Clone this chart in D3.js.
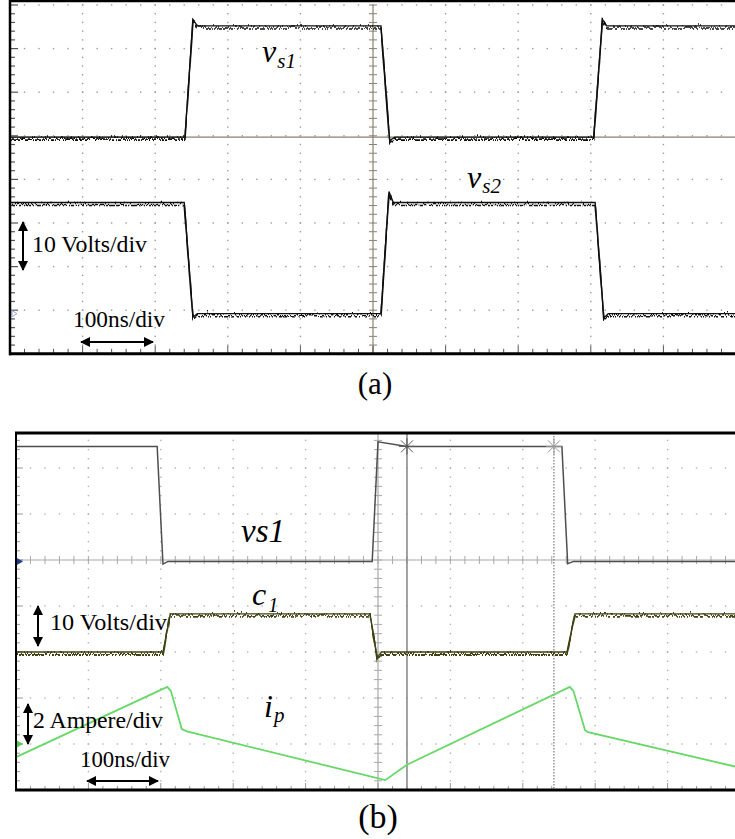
<!DOCTYPE html>
<html>
<head>
<meta charset="utf-8">
<script src="https://cdn.jsdelivr.net/npm/d3@7"></script>
<style>
  body { margin: 0; background: #fff; }
  svg { display: block; }
  text { font-family: "Liberation Serif", "Tinos", "DejaVu Serif", serif; }
</style>
</head>
<body>
<div id="chart"></div>
<script>
// ---- data read off the scope shots (time in ns) ----
// panel (a): switch node voltages, volts
const timeA_vs1 = [0, 241, 252, 258, 511, 523, 530, 804, 816, 822, 1000];
const voltA_vs1 = [0, 0, 27, 25.5, 25.5, -0.8, 0, 0, 27, 25.5, 25.5];
const timeA_vs2 = [0, 240, 252, 258, 511, 522, 528, 806, 818, 824, 1000];
const voltA_vs2 = [25.5, 25.5, -0.8, 0, 0, 28, 25.5, 25.5, -1, 0, 0];

// panel (b): vs1 and c1 in volts, ip in amperes
const timeB_vs1 = [0, 195, 203, 210, 492, 500, 540, 754, 762, 770, 1000];
const voltB_vs1 = [25, 25, -0.6, 0, 0, 26, 25, 25, -0.5, 0, 0];
const timeB_c1 = [0, 203, 213, 489, 499, 505, 761, 772, 1000];
const voltB_c1 = [0, 0, 8.3, 8.3, -1.2, 0, 0, 8.3, 8.3];
const timeB_ip = [0, 209, 214, 229, 236, 510, 540, 765, 770, 786, 790, 1000];
const ampB_ip = [-0.57, 2.48, 2.3, 0.65, 0.55, -1.57, -0.9, 2.48, 2.3, 0.6, 0.52, -1.03];

// cursor positions in panel (b), ns
const cursorTimes = [540, 743];

// scope settings: units per division, ground position in divisions
const voltsPerDiv = 10, ampsPerDiv = 2;
const gndA_vs1 = 0.97, gndA_vs2 = -3.08;      // panel (a), divs from centre
const gndB_vs1 = 4.97, gndB_c1 = 3.0, gndB_ip = 1.0; // panel (b), divs from bottom

const W = 735, H = 839;
const serif = '"Liberation Serif", "Tinos", "DejaVu Serif", serif';
const svg = d3.select('#chart').append('svg')
  .attr('width', W).attr('height', H)
  .attr('viewBox', [0, 0, W, H].join(' '))
  .attr('font-family', serif);

const defs = svg.append('defs');
// scope noise look: vertical jitter only (red channel pinned to 0.5)
const f = defs.append('filter').attr('id', 'noise')
  .attr('x', '-5%').attr('y', '-30%').attr('width', '110%').attr('height', '160%');
f.append('feTurbulence').attr('type', 'turbulence').attr('baseFrequency', '0.7 0.02')
  .attr('numOctaves', 2).attr('seed', 7).attr('result', 't');
f.append('feColorMatrix').attr('in', 't').attr('type', 'matrix')
  .attr('values', '0 0 0 0 0.5  0 1.6 0 0 -0.25  0 0 0 0 0  0 0 0 0 1').attr('result', 'm');
f.append('feDisplacementMap').attr('in', 'SourceGraphic').attr('in2', 'm')
  .attr('scale', 6).attr('xChannelSelector', 'R').attr('yChannelSelector', 'G');

defs.append('marker').attr('id', 'arr')
  .attr('viewBox', '0 0 10 10').attr('refX', 9).attr('refY', 5)
  .attr('markerWidth', 5).attr('markerHeight', 5).attr('orient', 'auto-start-reverse')
  .attr('markerUnits', 'strokeWidth')
  .append('path').attr('d', 'M0,0 L10,5 L0,10 z').attr('fill', '#000');

const zip = (t, v) => t.map((d, i) => [d, v[i]]);

// noisy trace = thin clean line + jittered copy
function noisyTrace(g, data, line, col, w) {
  g.append('path').datum(data).attr('d', line)
    .attr('fill', 'none').attr('stroke', col).attr('stroke-width', 1.3);
  g.append('path').datum(data).attr('d', line)
    .attr('fill', 'none').attr('stroke', col).attr('stroke-width', w).attr('filter', 'url(#noise)');
}

// ================= panel (a) =================
const xA = d3.scaleLinear().domain([0, 1000]).range([10, 736]);
const yA = d3.scaleLinear().domain([-4, 4]).range([353.8, 5]);
const gA = svg.append('g');

function gridDots(g, x, y, tMajors, dMajors, dMin, dMax, col) {
  // dots along vertical grid lines
  tMajors.forEach(t => {
    g.append('g').selectAll('rect')
      .data(d3.range(dMin, dMax + 0.001, 0.2))
      .join('rect')
      .attr('x', x(t) - 0.7).attr('y', d => y(d) - 0.7)
      .attr('width', 1.4).attr('height', 1.4).attr('fill', col);
  });
  // dots along horizontal grid rows
  dMajors.forEach(dv => {
    g.append('g').selectAll('rect')
      .data(d3.range(20, 1000, 20))
      .join('rect')
      .attr('x', d => x(d) - 0.7).attr('y', y(dv) - 0.7)
      .attr('width', 1.4).attr('height', 1.4).attr('fill', col);
  });
}

gridDots(gA, xA, yA, [100, 200, 300, 400, 600, 700, 800, 900], [-3, -2, -1, 0, 1, 2, 3, 4], -4, 4, '#9c9c9c');

// centre vertical axis with minor ticks
const axA = '#8b8170';
gA.append('line').attr('x1', xA(500)).attr('x2', xA(500)).attr('y1', yA(4)).attr('y2', yA(-4))
  .attr('stroke', axA).attr('stroke-width', 1.2);
gA.append('g').selectAll('line').data(d3.range(-4, 4.001, 0.2)).join('line')
  .attr('x1', xA(500) - 4).attr('x2', xA(500) + 4)
  .attr('y1', d => yA(d)).attr('y2', d => yA(d))
  .attr('stroke', axA).attr('stroke-width', 1);
// left border ticks
gA.append('g').selectAll('line').data(d3.range(-4, 4.001, 0.2)).join('line')
  .attr('x1', xA(0)).attr('x2', d => xA(0) + (Math.abs(d - Math.round(d)) < 0.01 ? 8 : 5))
  .attr('y1', d => yA(d)).attr('y2', d => yA(d))
  .attr('stroke', '#555').attr('stroke-width', 1.2);
// bottom border ticks
gA.append('g').selectAll('line').data(d3.range(0, 1001, 20)).join('line')
  .attr('x1', d => xA(d)).attr('x2', d => xA(d))
  .attr('y1', yA(-4)).attr('y2', d => yA(-4) - (d % 100 === 0 ? 8 : 5))
  .attr('stroke', '#555').attr('stroke-width', 1);
// vs1 ground reference line
gA.append('line').attr('x1', xA(0)).attr('x2', xA(1000))
  .attr('y1', yA(gndA_vs1)).attr('y2', yA(gndA_vs1))
  .attr('stroke', axA).attr('stroke-width', 1.4);
// vs2 ground marker
gA.append('path')
  .attr('d', `M${xA(0) + 2},${yA(gndA_vs2) - 3} L${xA(0) + 7},${yA(gndA_vs2)} L${xA(0) + 2},${yA(gndA_vs2) + 3} z`)
  .attr('fill', 'none').attr('stroke', '#9aa6e0').attr('stroke-width', 1);

const lineA1 = d3.line().x(d => xA(d[0])).y(d => yA(d[1] / voltsPerDiv + gndA_vs1));
const lineA2 = d3.line().x(d => xA(d[0])).y(d => yA(d[1] / voltsPerDiv + gndA_vs2));
noisyTrace(gA, zip(timeA_vs1, voltA_vs1), lineA1, '#111', 1.6);
noisyTrace(gA, zip(timeA_vs2, voltA_vs2), lineA2, '#111', 1.6);

// frame
gA.append('line').attr('x1', xA(0)).attr('x2', W).attr('y1', 1).attr('y2', 1).attr('stroke', '#000').attr('stroke-width', 2.5);
gA.append('line').attr('x1', xA(0)).attr('x2', xA(0)).attr('y1', 0).attr('y2', yA(-4) + 1.5).attr('stroke', '#000').attr('stroke-width', 2.5);
gA.append('line').attr('x1', xA(0) - 1).attr('x2', W).attr('y1', yA(-4)).attr('y2', yA(-4)).attr('stroke', '#000').attr('stroke-width', 3);

// labels
function sublabel(g, x, y, main, sub, size, subSize, subDx, subDy) {
  const t = g.append('text').attr('x', x).attr('y', y).attr('font-family', serif)
    .attr('font-style', 'italic').attr('font-size', size).attr('fill', '#000');
  t.append('tspan').text(main);
  if (sub) t.append('tspan').attr('font-size', subSize).attr('dx', subDx).attr('dy', subDy).text(sub);
}
sublabel(gA, 262, 62, 'v', 's1', 32, 21, 1, 6);
sublabel(gA, 467, 188, 'v', 's2', 32, 21, 1, 5);

function arrow(g, x1, y1, x2, y2) {
  g.append('line').attr('x1', x1).attr('y1', y1).attr('x2', x2).attr('y2', y2)
    .attr('stroke', '#000').attr('stroke-width', 2)
    .attr('marker-start', 'url(#arr)').attr('marker-end', 'url(#arr)');
}
function note(g, x, y, len, s) {
  g.append('text').attr('x', x).attr('y', y).attr('font-size', 23)
    .attr('textLength', len).attr('lengthAdjust', 'spacingAndGlyphs').text(s);
}
arrow(gA, 23, 222, 23, 270);
note(gA, 32, 252, 115, '10 Volts/div');
note(gA, 73, 327, 92, '100ns/div');
arrow(gA, 81, 342, 153, 342);

svg.append('text').attr('x', 375).attr('y', 394).attr('text-anchor', 'middle')
  .attr('font-size', 31).text('(a)');

// ================= panel (b) =================
const xB = d3.scaleLinear().domain([0, 1000]).range([16, 740]);
const yB = d3.scaleLinear().domain([0, 8]).range([790, 422]);
const topB = 433;
const gB = svg.append('g');

gridDots(gB, xB, yB, [100, 200, 300, 400, 600, 700, 800, 900], [1, 2, 3, 4, 6, 7], 0, 7.6, '#b4b4b4');

const axB = '#a8a8a8';
// centre vertical axis
gB.append('line').attr('x1', xB(500)).attr('x2', xB(500)).attr('y1', topB).attr('y2', yB(0))
  .attr('stroke', axB).attr('stroke-width', 1.2);
gB.append('g').selectAll('line').data(d3.range(0, 7.7, 0.2)).join('line')
  .attr('x1', xB(500) - 4).attr('x2', xB(500) + 4)
  .attr('y1', d => yB(d)).attr('y2', d => yB(d))
  .attr('stroke', axB).attr('stroke-width', 1);
// horizontal axis row
gB.append('line').attr('x1', xB(0)).attr('x2', W).attr('y1', yB(5)).attr('y2', yB(5))
  .attr('stroke', axB).attr('stroke-width', 1.2);
gB.append('g').selectAll('line').data(d3.range(0, 1001, 20)).join('line')
  .attr('x1', d => xB(d)).attr('x2', d => xB(d))
  .attr('y1', yB(5) - 4).attr('y2', yB(5) + 4)
  .attr('stroke', axB).attr('stroke-width', 1);
// left border ticks
gB.append('g').selectAll('line').data(d3.range(0, 7.7, 0.2)).join('line')
  .attr('x1', xB(0)).attr('x2', d => xB(0) + (Math.abs(d - Math.round(d)) < 0.01 ? 7 : 4))
  .attr('y1', d => yB(d)).attr('y2', d => yB(d))
  .attr('stroke', '#9a9a9a').attr('stroke-width', 1);
// bottom border ticks
gB.append('g').selectAll('line').data(d3.range(0, 1001, 20)).join('line')
  .attr('x1', d => xB(d)).attr('x2', d => xB(d))
  .attr('y1', yB(0)).attr('y2', d => yB(0) - (d % 100 === 0 ? 7 : 4))
  .attr('stroke', '#9a9a9a').attr('stroke-width', 1);

// cursors
gB.append('line').attr('x1', xB(cursorTimes[0])).attr('x2', xB(cursorTimes[0]))
  .attr('y1', topB).attr('y2', yB(0)).attr('stroke', '#8a8a8a').attr('stroke-width', 1.6);
gB.append('line').attr('x1', xB(cursorTimes[1])).attr('x2', xB(cursorTimes[1]))
  .attr('y1', topB).attr('y2', yB(0)).attr('stroke', '#777').attr('stroke-width', 1.2)
  .attr('stroke-dasharray', '1.5,1.5');

// ground markers
gB.append('path')
  .attr('d', `M${xB(0)},${yB(gndB_vs1) - 4} L${xB(0) + 7},${yB(gndB_vs1)} L${xB(0)},${yB(gndB_vs1) + 4} z`)
  .attr('fill', '#1d3f8a');
gB.append('path')
  .attr('d', `M${xB(0)},${yB(gndB_ip) - 4} L${xB(0) + 7},${yB(gndB_ip)} L${xB(0)},${yB(gndB_ip) + 4} z`)
  .attr('fill', '#4cd04c');

const lineBv = d3.line().x(d => xB(d[0])).y(d => yB(d[1] / voltsPerDiv + gndB_vs1));
const lineBc = d3.line().x(d => xB(d[0])).y(d => yB(d[1] / voltsPerDiv + gndB_c1));
const lineBi = d3.line().x(d => xB(d[0])).y(d => yB(d[1] / ampsPerDiv + gndB_ip));

gB.append('path').datum(zip(timeB_ip, ampB_ip)).attr('d', lineBi)
  .attr('fill', 'none').attr('stroke', '#66d866').attr('stroke-width', 1.8);
noisyTrace(gB, zip(timeB_c1, voltB_c1), lineBc, '#3f4213', 1.8);
gB.append('path').datum(zip(timeB_vs1, voltB_vs1)).attr('d', lineBv)
  .attr('fill', 'none').attr('stroke', '#4e4e4e').attr('stroke-width', 1.5);

// cursor cross markers on vs1
const vsAt = t => {
  const i = d3.bisectLeft(timeB_vs1, t);
  const t0 = timeB_vs1[i - 1], t1 = timeB_vs1[i];
  return voltB_vs1[i - 1] + (voltB_vs1[i] - voltB_vs1[i - 1]) * (t - t0) / (t1 - t0);
};
cursorTimes.forEach((t, k) => {
  const cx = xB(t), cy = yB(vsAt(t) / voltsPerDiv + gndB_vs1);
  const g = gB.append('g').attr('stroke', k === 0 ? '#555' : '#999').attr('stroke-width', 1);
  [[-8, 0, 8, 0], [0, -8, 0, 8], [-6, -6, 6, 6], [-6, 6, 6, -6]].forEach(s =>
    g.append('line').attr('x1', cx + s[0]).attr('y1', cy + s[1]).attr('x2', cx + s[2]).attr('y2', cy + s[3]));
});

// frame
gB.append('line').attr('x1', xB(0) - 1).attr('x2', W).attr('y1', topB).attr('y2', topB).attr('stroke', '#000').attr('stroke-width', 3);
gB.append('line').attr('x1', xB(0)).attr('x2', xB(0)).attr('y1', topB).attr('y2', yB(0)).attr('stroke', '#000').attr('stroke-width', 2);
gB.append('line').attr('x1', xB(0) - 1).attr('x2', W).attr('y1', yB(0)).attr('y2', yB(0)).attr('stroke', '#000').attr('stroke-width', 3);

// labels
gB.append('text').attr('x', 241).attr('y', 542).attr('font-style', 'italic').attr('font-size', 33).text('vs1');
sublabel(gB, 252, 605, 'c', '1', 32, 20, 2, 7);
sublabel(gB, 264, 717, 'i', 'p', 32, 21, 1, 5);

arrow(gB, 38, 606, 38, 646);
note(gB, 50, 630, 117, '10 Volts/div');
arrow(gB, 28, 704, 28, 744);
note(gB, 33, 728, 130, '2 Ampere/div');
note(gB, 80, 767, 90, '100ns/div');
arrow(gB, 87, 781, 158, 781);

svg.append('text').attr('x', 378).attr('y', 828).attr('text-anchor', 'middle')
  .attr('font-size', 34).text('(b)');
</script>
</body>
</html>
